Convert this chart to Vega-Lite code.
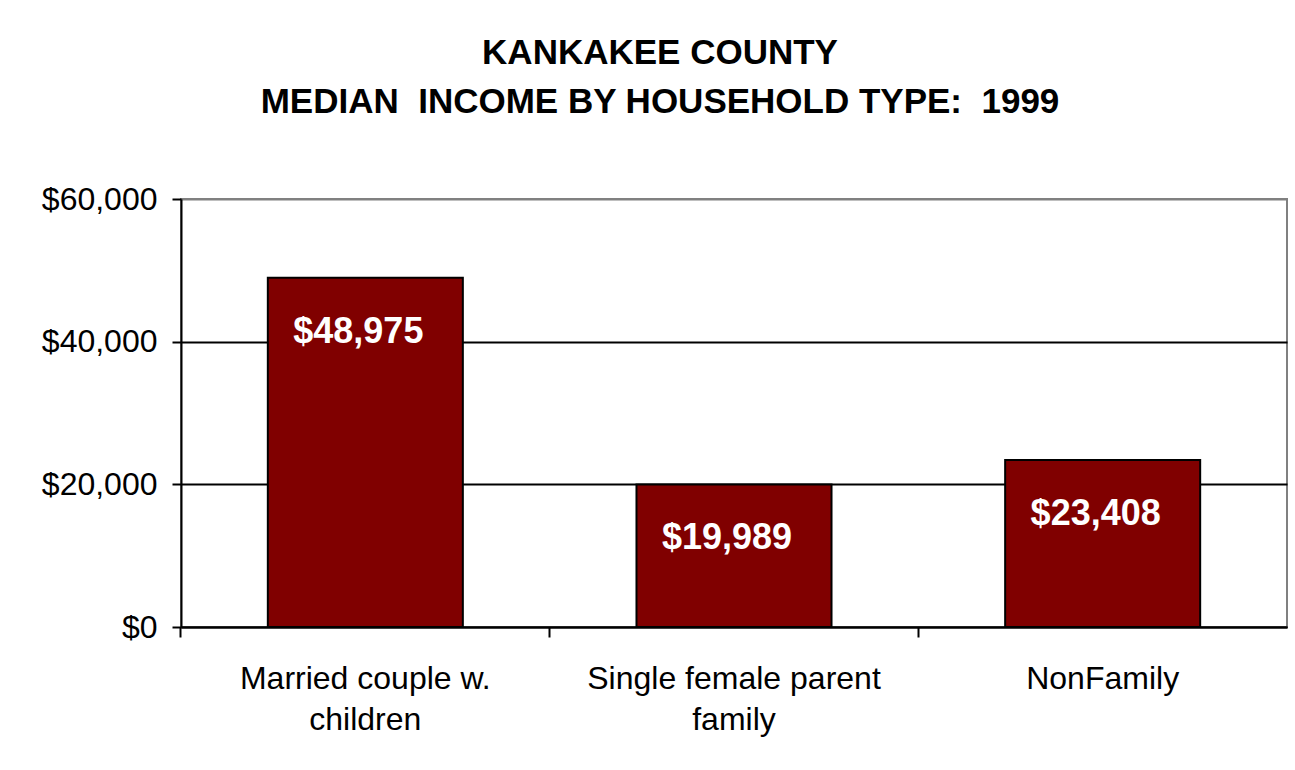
{
  "$schema": "https://vega.github.io/schema/vega-lite/v6.json",
  "autosize": {"type": "none"},
  "width": 1106,
  "height": 428,
  "padding": {"left": 181, "top": 199, "right": 8, "bottom": 143},
  "background": "white",
  "title": {
    "text": ["KANKAKEE COUNTY", "MEDIAN\u00a0 INCOME BY HOUSEHOLD TYPE:\u00a0 1999"],
    "font": "Liberation Sans",
    "fontSize": 35,
    "fontWeight": "bold",
    "color": "black",
    "lineHeight": 49,
    "anchor": "middle",
    "frame": "group",
    "dx": -74,
    "offset": 63
  },
  "data": {
    "values": [
      {"type": "Married couple w. children", "income": 48975},
      {"type": "Single female parent family", "income": 19989},
      {"type": "NonFamily", "income": 23408}
    ]
  },
  "config": {
    "view": {"stroke": "#808080", "strokeWidth": 2},
    "axis": {
      "labelFont": "Liberation Sans",
      "labelFontSize": 32,
      "labelColor": "black",
      "labelLimit": 0,
      "domainColor": "black",
      "domainWidth": 2,
      "tickColor": "black",
      "tickWidth": 2,
      "titleFont": "Liberation Sans"
    }
  },
  "encoding": {
    "x": {
      "field": "type",
      "type": "nominal",
      "sort": null,
      "scale": {"paddingInner": 0.471, "paddingOuter": 0.2355}
    },
    "y": {
      "field": "income",
      "type": "quantitative",
      "scale": {"domain": [0, 60000], "nice": false},
      "axis": {
        "title": null,
        "values": [0, 20000, 40000, 60000],
        "format": "$,.0f",
        "tickSize": 9,
        "labelPadding": 15,
        "grid": true,
        "gridColor": {"condition": {"test": "datum.value === 60000", "value": "#808080"}, "value": "black"},
        "gridWidth": 2
      }
    }
  },
  "layer": [
    {
      "mark": {"type": "bar", "color": "#800000", "stroke": "black", "strokeWidth": 2},
      "encoding": {
        "x": {
          "field": "type",
          "type": "nominal",
          "sort": null,
          "axis": {
            "title": null,
            "orient": "bottom",
            "labelAngle": 0,
            "ticks": false,
            "domain": true,
            "labelPadding": 36,
            "labelLineHeight": 41,
            "labelExpr": "datum.value == 'Married couple w. children' ? ['Married couple w.', 'children'] : datum.value == 'Single female parent family' ? ['Single female parent', 'family'] : datum.label"
          }
        }
      }
    },
    {
      "mark": {
        "type": "text",
        "color": "white",
        "font": "Liberation Sans",
        "fontSize": 36,
        "fontWeight": "bold",
        "baseline": "middle",
        "dy": 54,
        "dx": -7
      },
      "encoding": {
        "x": {
          "field": "type",
          "type": "nominal",
          "sort": null,
          "axis": {
            "title": null,
            "orient": "bottom",
            "labels": false,
            "domain": false,
            "ticks": true,
            "tickSize": 10,
            "bandPosition": -0.4455
          }
        },
        "text": {"field": "income", "type": "quantitative", "format": "$,.0f"}
      }
    }
  ],
  "resolve": {"axis": {"x": "independent"}}
}
